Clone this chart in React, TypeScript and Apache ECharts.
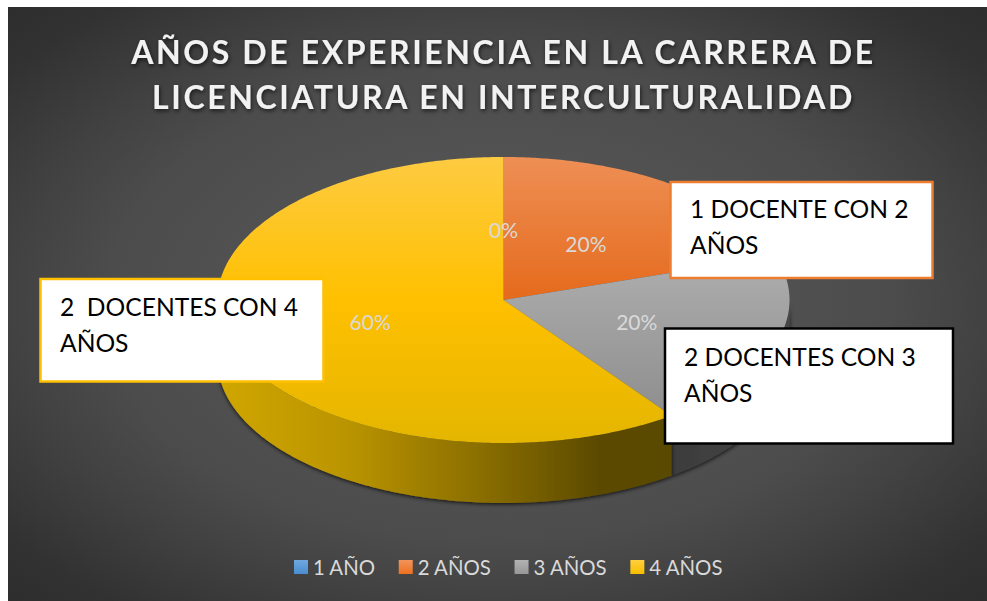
import React, { useEffect, useRef } from "react";
import * as echarts from "echarts";

const categories = ["1 AÑO", "2 AÑOS", "3 AÑOS", "4 AÑOS"];
const percentValues = [0, 20, 20, 60];
const titleLines = ["AÑOS DE EXPERIENCIA EN LA CARRERA DE", "LICENCIATURA EN INTERCULTURALIDAD"];
const calloutOrange = ["1 DOCENTE CON 2", "AÑOS"];
const calloutBlack = ["2 DOCENTES CON 3", "AÑOS"];
const calloutYellow = ["2  DOCENTES CON 4", "AÑOS"];

const CX = 503.5, CY = 300, RX = 286, RY = 143, DEPTH = 60;
const FONT = "Lato";
const TAU = Math.PI * 2;

const vgrad = (a: string, b: string, mid?: string) => ({
  type: "linear", x: 0, y: 0, x2: 0, y2: 1,
  colorStops: mid
    ? [{ offset: 0, color: a }, { offset: 0.5, color: mid }, { offset: 1, color: b }]
    : [{ offset: 0, color: a }, { offset: 1, color: b }],
});
const hgrad = (stops: [number, string][]) => ({
  type: "linear", x: 0, y: 0, x2: 1, y2: 0,
  colorStops: stops.map(([offset, color]) => ({ offset, color })),
});

const legendFills = [
  vgrad("#6FA8DF", "#4A8DD0"),
  vgrad("#F4935C", "#EC7120"),
  vgrad("#B2B2B2", "#979797"),
  vgrad("#FFD03F", "#F6BE00"),
];
const topFills = [
  vgrad("#6FA8DF", "#4A8DD0"),
  vgrad("#EE8F55", "#E56A1C"),
  vgrad("#AEAEAE", "#8E8E8E"),
  vgrad("#FDCB42", "#E4B600", "#FFC000"),
];

const pt = (t: number, dy = 0) => [CX + RX * Math.sin(t), CY - RY * Math.cos(t) + dy];
const arc = (a: number, b: number, dy = 0) => {
  const n = Math.max(2, Math.ceil(Math.abs(b - a) / 0.01));
  const out: number[][] = [];
  for (let i = 0; i <= n; i++) out.push(pt(a + ((b - a) * i) / n, dy));
  return out;
};

const total = percentValues.reduce((s, v) => s + v, 0);

const sliceChildren = (index: number) => {
  const before = percentValues.slice(0, index).reduce((s, v) => s + v, 0);
  const a = (before / total) * TAU;
  const b = ((before + percentValues[index]) / total) * TAU;
  const children: any[] = [];
  // visible side wall: the part of the slice in the front half of the ellipse
  const wa = Math.max(a, Math.PI / 2);
  const wb = Math.min(b, (Math.PI * 3) / 2);
  if (wb > wa) {
    const top = arc(wa, wb);
    const bottom = arc(wb, wa, DEPTH);
    children.push({
      type: "polygon",
      shape: { points: [...top, ...bottom] },
      style: {
        fill: index === 3
          ? hgrad([[0, "#D0A600"], [0.28, "#BB9500"], [0.58, "#8A6E00"], [0.84, "#5C4A00"], [1, "#5A4800"]])
          : hgrad([[0, "#3C3C3C"], [1, "#474747"]]),
        shadowColor: "rgba(0,0,0,0.85)",
        shadowBlur: 4,
        shadowOffsetY: 1,
      },
    });
  }
  if (b > a) {
    children.push({
      type: "polygon",
      shape: { points: [[CX, CY], ...arc(a, b)] },
      style: { fill: topFills[index] },
    });
  }
  const mid = (a + b) / 2;
  children.push({
    type: "text",
    z2: 50,
    style: {
      text: Math.round((percentValues[index] / total) * 100) + "%",
      x: CX + 0.49 * RX * Math.sin(mid),
      y: CY - 0.49 * RY * Math.cos(mid),
      align: "center",
      verticalAlign: "middle",
      fill: "#D9D9D9",
      font: `21px ${FONT}`,
    },
  });
  return children;
};

const callout = (
  x: number, y: number, w: number, h: number, stroke: string,
  lines: string[], tx: number, baselines: number[]
) => [
  {
    type: "rect", z: 100,
    shape: { x, y, width: w, height: h },
    style: { fill: "#FFFFFF", stroke, lineWidth: 2.5 },
  },
  ...lines.map((text, i) => ({
    type: "text", z: 101, x: tx, y: baselines[i],
    style: { text, fill: "#000000", font: `24.6px ${FONT}`, align: "left", verticalAlign: "bottom" },
  })),
];

export default function App() {
  const ref = useRef<HTMLDivElement>(null);
  useEffect(() => {
    document.body.style.margin = "0";
    document.body.style.background = "#FFFFFF";
    const chart = echarts.init(ref.current!, null, { renderer: "svg" });
    const bgScale = 1.3;
    chart.setOption({
      animation: false,
      title: {
        text: titleLines.join("\n"),
        left: 498.5,
        top: 24,
        textAlign: "center",
        textStyle: {
          color: "#F2F2F2",
          fontFamily: FONT,
          fontWeight: "bold",
          fontSize: 32,
          lineHeight: 45,
          textShadowColor: "rgba(0,0,0,0.65)",
          textShadowBlur: 4,
          textShadowOffsetX: 1,
          textShadowOffsetY: 2,
        },
      },
      legend: {
        left: 294,
        top: 557,
        padding: 0,
        itemWidth: 14,
        itemHeight: 14,
        itemGap: 23,
        icon: "rect",
        selectedMode: false,
        textStyle: { color: "#D9D9D9", fontFamily: FONT, fontSize: 20.4 },
        data: categories.map((name, i) => ({ name, itemStyle: { color: legendFills[i] } })),
      },
      graphic: [
        {
          type: "rect", z: -10, x: 8, y: 7, scaleX: bgScale, silent: true,
          shape: { x: 0, y: 0, width: 979 / bgScale, height: 594 },
          style: {
            fill: {
              type: "radial", x: 0.5, y: 0.5, r: 0.8,
              colorStops: [
                { offset: 0, color: "#5C5C5C" },
                { offset: 0.5, color: "#4C4C4C" },
                { offset: 0.62, color: "#424242" },
                { offset: 0.79, color: "#323232" },
                { offset: 1, color: "#282828" },
              ],
            },
          },
        },
        ...callout(670.5, 182, 262, 96, "#ED7D31", calloutOrange, 690, [221, 257]),
        ...callout(665, 328.5, 288, 115, "#000000", calloutBlack, 684, [369, 405]),
        ...callout(40.5, 279, 283, 102.5, "#FFC000", calloutYellow, 60, [319, 355]),
      ],
      series: categories.map((name, i) => ({
        type: "custom",
        name,
        coordinateSystem: "none",
        silent: true,
        itemStyle: { color: legendFills[i] },
        data: [percentValues[i]],
        // the empty first slice only carries its label, which must sit above the large slice
        z: i === 0 ? 10 : 2 + i,
        renderItem: () => ({ type: "group", children: sliceChildren(i) }),
      })),
    });
    const applySpacing = () => {
      ref.current?.querySelectorAll("text").forEach((t) => {
        if (titleLines.includes((t.textContent || "").trim())) {
          (t as SVGTextElement).style.letterSpacing = "2.6px";
        }
      });
    };
    applySpacing();
    chart.on("finished", applySpacing);
    return () => chart.dispose();
  }, []);
  return <div ref={ref} style={{ width: 987, height: 601 }} />;
}
